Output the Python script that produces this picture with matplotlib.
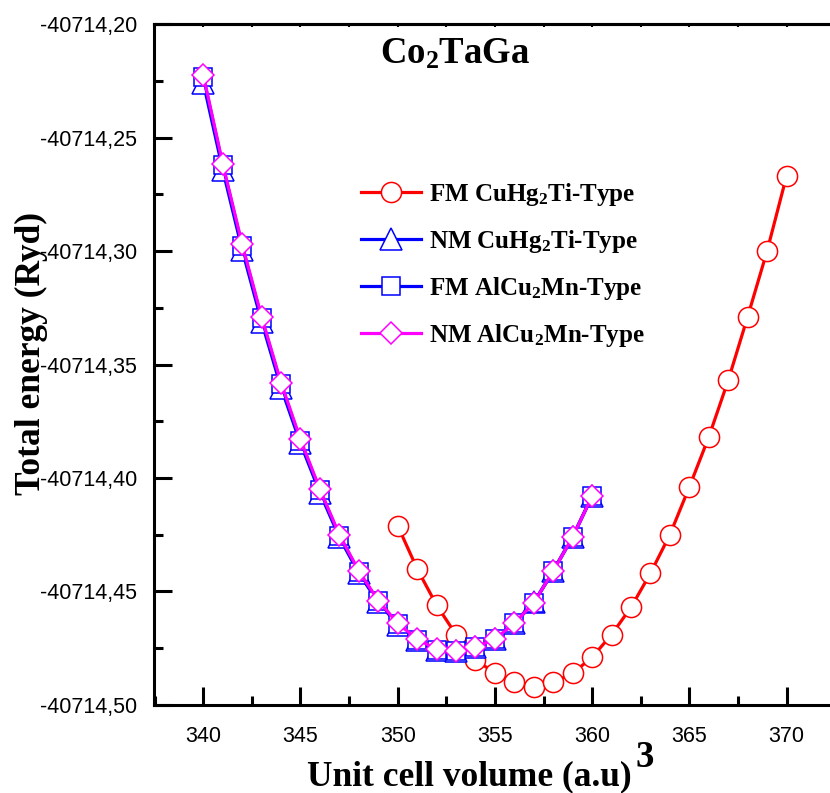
import matplotlib
matplotlib.use("Agg")
import matplotlib.pyplot as plt
from matplotlib.ticker import MultipleLocator, FuncFormatter

# Unit cell volumes (a.u^3)
vol_cuhg_fm = [350, 351, 352, 353, 354, 355, 356, 357, 358, 359, 360,
               361, 362, 363, 364, 365, 366, 367, 368, 369, 370]
vol_low = [340, 341, 342, 343, 344, 345, 346, 347, 348, 349, 350,
           351, 352, 353, 354, 355, 356, 357, 358, 359, 360]

# Total energies (Ryd)
e_fm_cuhg = [-40714.421, -40714.440, -40714.456, -40714.469, -40714.480,
             -40714.486, -40714.490, -40714.492, -40714.490, -40714.486,
             -40714.479, -40714.469, -40714.457, -40714.442, -40714.425,
             -40714.404, -40714.382, -40714.357, -40714.329, -40714.300,
             -40714.267]
e_nm_cuhg = [-40714.2258, -40714.2642, -40714.2995, -40714.3312, -40714.3602,
             -40714.3848, -40714.4065, -40714.4262, -40714.4420, -40714.4548,
             -40714.4646, -40714.4715, -40714.4758, -40714.4762, -40714.4746,
             -40714.4710, -40714.4638, -40714.4548, -40714.4408, -40714.4258,
             -40714.4078]
e_fm_alcu = [-40714.2232, -40714.2622, -40714.2978, -40714.3297, -40714.3587,
             -40714.3836, -40714.4055, -40714.4254, -40714.4414, -40714.4543,
             -40714.4643, -40714.4712, -40714.4757, -40714.4761, -40714.4746,
             -40714.4711, -40714.4641, -40714.4551, -40714.4411, -40714.4261,
             -40714.4081]
e_nm_alcu = [-40714.2225, -40714.2615, -40714.2970, -40714.3290, -40714.3580,
             -40714.3830, -40714.4050, -40714.4250, -40714.4410, -40714.4540,
             -40714.4640, -40714.4710, -40714.4755, -40714.4760, -40714.4745,
             -40714.4710, -40714.4640, -40714.4550, -40714.4410, -40714.4260,
             -40714.4080]

labels = [r"FM CuHg$_\mathbf{2}$Ti-Type", r"NM CuHg$_\mathbf{2}$Ti-Type",
          r"FM AlCu$_\mathbf{2}$Mn-Type", r"NM AlCu$_\mathbf{2}$Mn-Type"]

plt.rcParams["mathtext.fontset"] = "custom"
plt.rcParams["mathtext.rm"] = "Liberation Serif:bold"
plt.rcParams["mathtext.bf"] = "Liberation Serif:bold"
plt.rcParams["mathtext.it"] = "Liberation Serif:bold"

serif_bold = dict(family="Liberation Serif", weight="bold")

fig = plt.figure(figsize=(8.30, 7.93), dpi=100)
ax = fig.add_axes([0.1852, 0.1110, 0.8233, 0.8587])

lw = 2.3
ax.plot(vol_cuhg_fm, e_fm_cuhg, color="#FF0000", lw=lw, marker="o", ms=14.5,
        mfc="white", mec="#FF0000", mew=1.1, label=labels[0], zorder=2)
ax.plot(vol_low, e_nm_cuhg, color="#0000FF", lw=lw, marker="^", ms=15.5,
        mfc="white", mec="#0000FF", mew=1.1, label=labels[1], zorder=3)
ax.plot(vol_low, e_fm_alcu, color="#0000FF", lw=lw, marker="s", ms=12.5,
        mfc="white", mec="#0000FF", mew=1.1, label=labels[2], zorder=4)
ax.plot(vol_low, e_nm_alcu, color="#FF00FF", lw=lw, marker="D", ms=11.2,
        mfc="white", mec="#FF00FF", mew=1.1, label=labels[3], zorder=5)

ax.set_xlim(337.45, 372.6)
ax.set_ylim(-40714.50, -40714.20)

ax.xaxis.set_major_locator(MultipleLocator(5))
ax.xaxis.set_minor_locator(MultipleLocator(2.5))
ax.yaxis.set_major_locator(MultipleLocator(0.05))
ax.yaxis.set_minor_locator(MultipleLocator(0.025))
ax.yaxis.set_major_formatter(FuncFormatter(lambda v, p: f"{v:.2f}".replace(".", ",")))

for s in ax.spines.values():
    s.set_linewidth(2.2)

ax.tick_params(which="both", direction="in", width=2.2)
ax.tick_params(which="major", length=13)
ax.tick_params(which="minor", length=6.5)
ax.tick_params(axis="x", which="major", pad=15, labelsize=15.5)
ax.tick_params(axis="y", which="major", pad=12, labelsize=15.5)
for t in ax.get_xticklabels() + ax.get_yticklabels():
    t.set_fontfamily("Liberation Sans")

top = ax.secondary_xaxis("top")
top.xaxis.set_major_locator(MultipleLocator(2.5))
top.tick_params(direction="in", length=2.5, width=1.5, labeltop=False)
top.spines["top"].set_linewidth(2.2)

leg = ax.legend(loc="upper left", bbox_to_anchor=(361 / 830, 1 - 181 / 793),
                bbox_transform=fig.transFigure, frameon=False,
                prop=dict(family="Liberation Serif", weight="bold", size=18),
                handlelength=2.4, handletextpad=0.3, labelspacing=0.8,
                borderpad=0, borderaxespad=0)

fig.text(455 / 830, 1 - 64 / 793, r"Co$_\mathbf{2}$TaGa", ha="center",
         va="baseline", fontsize=26.5, **serif_bold)
fig.text(469 / 830, 1 - 785 / 793, "Unit cell volume (a.u)", ha="center",
         va="baseline", fontsize=25.5, **serif_bold)
fig.text(635 / 830, 1 - 767 / 793, "3", ha="left", va="baseline",
         fontsize=26.5, **serif_bold)
fig.text(31 / 830, 1 - 354 / 793, "Total energy (Ryd)", ha="center",
         va="center", rotation=90, fontsize=25.5, **serif_bold)

fig.savefig("out.png", dpi=100)
